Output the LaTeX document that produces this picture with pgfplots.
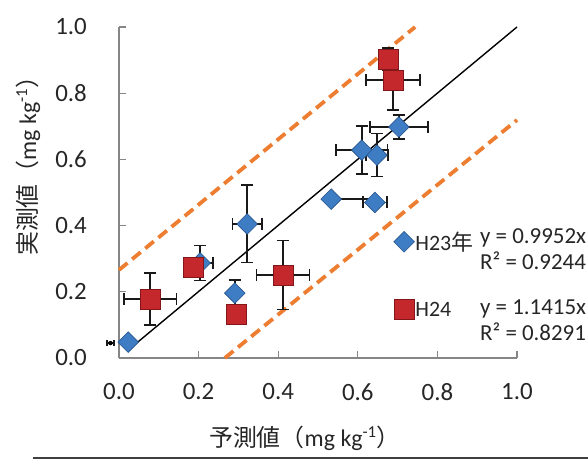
\documentclass[border=0pt]{standalone}
\usepackage{fontspec}
\setmainfont{Carlito}
\newfontfamily\jp{Noto Sans CJK JP}
\usepackage{pgfplots}
\usepackage{pgfplotstable}
\pgfplotsset{compat=1.18}
\definecolor{dorange}{RGB}{237,125,49}
\definecolor{dblue}{RGB}{62,124,196}
\definecolor{dblueedge}{RGB}{38,84,140}
\definecolor{dred}{RGB}{196,40,44}
\definecolor{drededge}{RGB}{130,22,24}
\definecolor{axgray}{RGB}{134,134,134}

\pgfplotstableread{
x y exp exm eyp eym
0.023 0.048 0 0 0 0
0.291 0.196 0 0 0.040 0.040
0.322 0.405 0.037 0.037 0.117 0.117
0.204 0.287 0.032 0.032 0.053 0.053
0.533 0.480 0.110 0 0 0
0.643 0.470 0.030 0.030 0 0
0.610 0.628 0.065 0.065 0.072 0.072
0.648 0.613 0.028 0.028 0.065 0.065
0.703 0.698 0.073 0.073 0.036 0.036
}\hxxiii

\pgfplotstableread{
x y exp exm eyp eym
0.078 0.178 0.066 0.066 0.079 0.079
0.186 0.275 0 0 0 0
0.294 0.133 0 0 0 0
0.412 0.251 0.067 0.067 0.104 0.104
0.676 0.903 0 0 0.034 0.034
0.689 0.840 0.068 0.068 0.090 0.090
}\hxxiv

\begin{document}
\begin{tikzpicture}
\useasboundingbox (-119bp,-102bp) rectangle (469bp,358bp);
\begin{axis}[
  at={(0,0)}, anchor=south west,
  scale only axis, width=398bp, height=331bp,
  xmin=0, xmax=1, ymin=0, ymax=1,
  clip=false,
  axis lines*=left,
  axis line style={draw=axgray, line width=1.3bp},
  tick align=inside,
  major tick length=7bp,
  tick style={draw=axgray, line width=1.3bp},
  xtick={0,0.2,0.4,0.6,0.8,1.0},
  ytick={0,0.2,0.4,0.6,0.8,1.0},
  /pgf/number format/.cd, fixed, fixed zerofill, precision=1, assume math mode=true,
  /pgfplots/.cd,
  xticklabel style={font=\fontsize{25}{30}\selectfont, inner sep=0pt, yshift=-25bp, text=black!85},
  yticklabel style={font=\fontsize{25}{30}\selectfont, inner sep=0pt, xshift=-32bp, text=black!85},
  legend style={at={(axis cs:0.69,0.385)}, anchor=north west, draw=none, fill=none,
    font=\fontsize{22}{26}\selectfont, row sep=47bp, inner sep=0pt,
    nodes={inner sep=1bp, text=black!85}},
  legend cell align=left,
  legend image code/.code={\draw[mark repeat=2,mark phase=2,#1] plot coordinates {(0bp,0bp)(9bp,0bp)(18bp,0bp)};},
  errstyle/.style={only marks, mark=none, forget plot,
    error bars/.cd, x dir=both, x explicit, y dir=both, y explicit,
    error bar style={black!90, line width=1.6bp},
    error mark options={rotate=90, black!90, mark size=6bp, line width=1.6bp}},
]
% reference lines
\addplot[dorange, line width=3.8bp, dash pattern=on 11bp off 6bp, forget plot] coordinates {(0,0.266) (0.744,1.0)};
\addplot[dorange, line width=3.8bp, dash pattern=on 11bp off 6bp, forget plot] coordinates {(0.266,0) (1.0,0.719)};
\addplot[black, line width=1.4bp, forget plot] coordinates {(0.023,0.024) (1.0,1.0)};

% stray error bar left of axis
\addplot[only marks, mark=none, forget plot,
  error bars/.cd, x dir=both, x explicit,
  error bar style={black!90, line width=1.6bp},
  error mark options={rotate=90, black!90, mark size=3bp, line width=1.6bp}]
  coordinates {(-0.0215,0.045) +- (0.0085,0)};

% H23 error bars
\addplot[errstyle]
  table[x=x, y=y, x error plus=exp, x error minus=exm, y error plus=eyp, y error minus=eym] {\hxxiii};
% H23 marks
\addplot[only marks, mark=square*, mark size=7.3bp,
  mark options={rotate=45, fill=dblue, draw=dblueedge, line width=0.6bp}]
  table[x=x, y=y] {\hxxiii};
\addlegendentry{H23{\jp 年}}

% H24 error bars
\addplot[errstyle]
  table[x=x, y=y, x error plus=exp, x error minus=exm, y error plus=eyp, y error minus=eym] {\hxxiv};
% H24 marks
\addplot[only marks, mark=square*, mark size=10bp,
  mark options={fill=dred, draw=drededge, line width=0.6bp}]
  table[x=x, y=y] {\hxxiv};
\addlegendentry{H24}

% equations
\node[anchor=base west, font=\fontsize{23}{27}\selectfont, text=black!85, inner sep=0pt] at (axis cs:0.907,0.347) {y = 0.9952x};
\node[anchor=base west, font=\fontsize{23}{27}\selectfont, text=black!85, inner sep=0pt] at (axis cs:0.907,0.266) {R² = 0.9244};
\node[anchor=base west, font=\fontsize{23}{27}\selectfont, text=black!85, inner sep=0pt] at (axis cs:0.907,0.130) {y = 1.1415x};
\node[anchor=base west, font=\fontsize{23}{27}\selectfont, text=black!85, inner sep=0pt] at (axis cs:0.907,0.054) {R² = 0.8291};

% axis labels
\node[rotate=90, anchor=center, font=\fontsize{24}{28}\selectfont, text=black!85] at (axis cs:-0.229,0.598) {{\jp 実測値（}mg kg\textsuperscript{-1}{\jp ）}};
\node[anchor=center, font=\fontsize{24}{28}\selectfont, text=black!85] at (axis cs:0.467,-0.242) {{\jp 予測値（}mg kg\textsuperscript{-1}{\jp ）}};
\end{axis}
\draw[line width=2bp, color=black!75] (-86bp,-100bp) -- (469bp,-100bp);
\end{tikzpicture}
\end{document}
